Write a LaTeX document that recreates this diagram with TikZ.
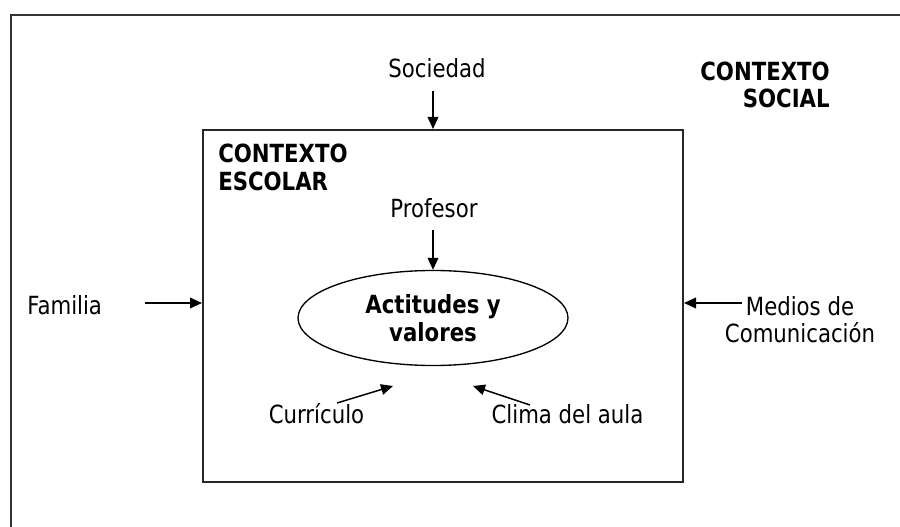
\documentclass[tikz,border=0pt]{standalone}
\usepackage{fontspec}
\setmainfont{DejaVu Sans}[FakeStretch=0.85]
\usetikzlibrary{shapes.geometric,arrows.meta}
\begin{document}
\begin{tikzpicture}[x=0.75pt,y=-0.75pt,
  lbl/.style={inner sep=0pt,font=\fontsize{18.75pt}{20.6pt}\selectfont},
  blbl/.style={lbl,font=\fontsize{18.75pt}{20.6pt}\selectfont\bfseries},
  arr/.style={-{Triangle[length=9pt,width=8pt]},line width=1.1pt,black},
  frame/.style={line width=1.5pt,draw=black!85}]
\useasboundingbox (0,0) rectangle (900,527);
% outer frame (only top and left visible)
\draw[line width=1.8pt,draw=black!80] (11,540) -- (11,15) -- (915,15);
% school context box
\node[frame,draw,minimum width=360pt,minimum height=264pt,inner sep=0pt] (box) at (443,306) {};
% central ellipse
\node[ellipse,draw,line width=1pt,minimum width=202.5pt,minimum height=71.25pt,inner sep=0pt,align=center,
  font=\fontsize{18.75pt}{20.6pt}\selectfont\bfseries] (act) at (433,318) {Actitudes y\\valores};
% labels
\node[lbl,anchor=base] (soc) at (437,78) {Sociedad};
\node[blbl,anchor=east,align=right] (csoc) at (830,85) {CONTEXTO\\SOCIAL};
\node[blbl,anchor=west,align=left] (cesc) at (218,167.4) {CONTEXTO\\ESCOLAR};
\node[lbl,anchor=base] (prof) at (434,218) {Profesor};
\node[lbl,anchor=base west] (fam) at (27,315) {Familia};
\node[lbl,align=center] (med) at (800,319.5) {Medios de\\Comunicación};
\node[lbl,anchor=base] (cur) at (316.5,423) {Currículo};
\node[lbl,anchor=base] (clima) at (567.5,423) {Clima del aula};
% arrow end points
\coordinate (socA) at (433,91);
\coordinate (profA) at (433,230);
\coordinate (famA) at (145,303);
\coordinate (medA) at (742,303);
\coordinate (curA) at (337,403);
\coordinate (curB) at (393,386);
\coordinate (cliA) at (530,405);
\coordinate (cliB) at (473,386);
% arrows
\draw[arr] (socA) -- (socA |- box.north);
\draw[arr] (profA) -- (act.north);
\draw[arr] (famA) -- (famA -| box.west);
\draw[arr] (medA) -- (medA -| box.east);
\draw[arr] (curA) -- (curB);
\draw[arr] (cliA) -- (cliB);
\end{tikzpicture}
\end{document}
